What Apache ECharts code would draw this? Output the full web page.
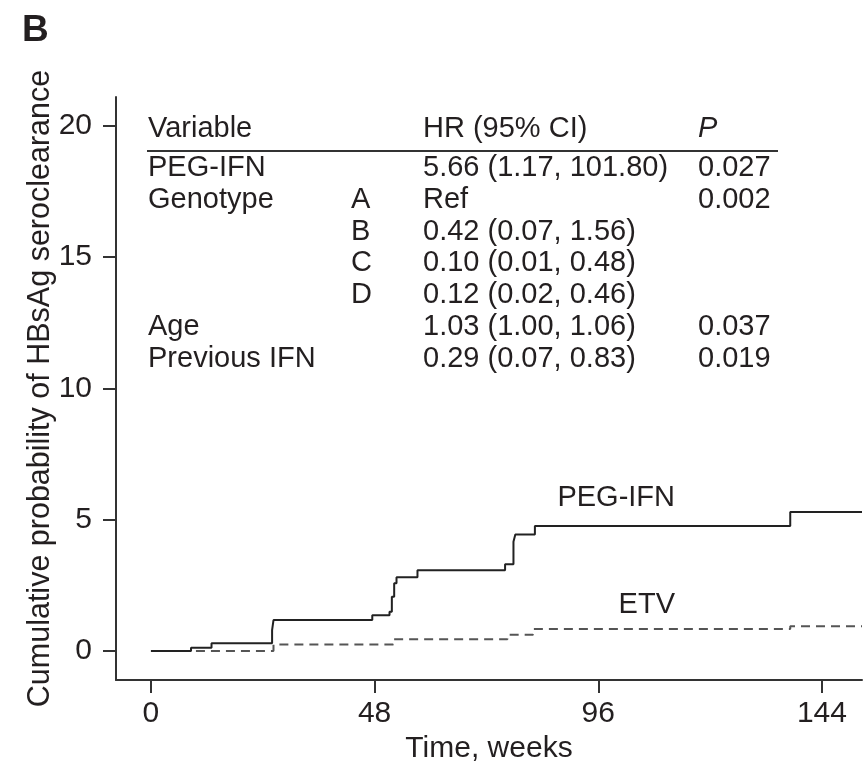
<!DOCTYPE html>
<html>
<head>
<meta charset="utf-8">
<script src="https://cdn.jsdelivr.net/npm/echarts@6/dist/echarts.min.js"></script>
<style>
html,body{margin:0;padding:0;background:#fff;}
#chart{width:866px;height:762px;}
</style>
</head>
<body>
<div id="chart"></div>
<script>
// ---- data ----
const xTicks = [0, 48, 96, 144];
const yTicks = [0, 5, 10, 15, 20];

const pegTime = [0, 8.6, 13, 26, 26.3, 47.5, 51.2, 51.7, 52.2, 52.7, 57.2, 76, 77.8, 78.2, 82.4, 137.2, 152.6];
const pegProb = [0, 0.13, 0.3, 0.8, 1.18, 1.37, 1.5, 2.07, 2.58, 2.81, 3.08, 3.31, 4.16, 4.44, 4.76, 5.3, 5.3];

const etvTime = [0, 26.3, 52, 76.5, 82, 137.2, 152.6];
const etvProb = [0, 0.25, 0.45, 0.62, 0.84, 0.95, 0.95];

const tableHeader = ['Variable', 'HR (95% CI)', 'P'];
const colVariable = ['PEG-IFN', 'Genotype', '', '', '', 'Age', 'Previous IFN'];
const colLevel    = ['', 'A', 'B', 'C', 'D', '', ''];
const colHR       = ['5.66 (1.17, 101.80)', 'Ref', '0.42 (0.07, 1.56)', '0.10 (0.01, 0.48)', '0.12 (0.02, 0.46)', '1.03 (1.00, 1.06)', '0.29 (0.07, 0.83)'];
const colP        = ['0.027', '0.002', '', '', '', '0.037', '0.019'];

const curveLabels = ['PEG-IFN', 'ETV'];

// ---- build ----
const FONT = '"Liberation Sans", Arial, Helvetica, sans-serif';
const INK = '#231f20';
const pegData = pegTime.map((t, i) => [t, pegProb[i]]);
const etvData = etvTime.map((t, i) => [t, etvProb[i]]);

const graphics = [];
function txt(x, y, s, opts) {
  graphics.push({
    type: 'text', x: x, y: y, silent: true,
    style: Object.assign({ text: s, fill: INK, font: '29px ' + FONT, textVerticalAlign: 'middle' }, opts || {})
  });
}
// Panel letter
txt(22, 31, 'B', { font: 'bold 37px ' + FONT });
// Table header
const colX = [148, 351, 423, 698];
const headerY = 129;
txt(colX[0], headerY, tableHeader[0]);
txt(colX[2], headerY, tableHeader[1]);
txt(colX[3], headerY, tableHeader[2], { font: 'italic 29px ' + FONT });
graphics.push({ type: 'line', silent: true, shape: { x1: 147, y1: 151, x2: 778, y2: 151 }, style: { stroke: '#333', lineWidth: 2 } });
const rowY0 = 168, rowStep = 31.8;
for (let i = 0; i < colVariable.length; i++) {
  const y = rowY0 + i * rowStep;
  if (colVariable[i]) txt(colX[0], y, colVariable[i]);
  if (colLevel[i]) txt(colX[1], y, colLevel[i]);
  if (colHR[i]) txt(colX[2], y, colHR[i]);
  if (colP[i]) txt(colX[3], y, colP[i]);
}
// Curve labels
txt(675, 498, curveLabels[0], { textAlign: 'right' });
txt(675, 605, curveLabels[1], { textAlign: 'right' });

const chart = echarts.init(document.getElementById('chart'), null, { renderer: 'canvas' });
chart.setOption({
  backgroundColor: '#fff',
  animation: false,
  grid: { left: 116, right: 4, top: 97, bottom: 82, containLabel: false, outerBoundsMode: 'none' },
  xAxis: {
    type: 'value', min: -7.5, max: 152.6,
    name: 'Time, weeks', nameLocation: 'middle', nameGap: 50,
    nameTextStyle: { fontFamily: FONT, fontSize: 30, color: INK },
    axisLine: { show: true, onZero: false, lineStyle: { color: '#333', width: 2 } },
    axisTick: { show: true, length: 13, inside: false, customValues: xTicks, lineStyle: { color: '#333', width: 2 } },
    axisLabel: { customValues: xTicks, fontFamily: FONT, fontSize: 30, color: INK, margin: 19 },
    splitLine: { show: false }
  },
  yAxis: {
    type: 'value', min: -1.1, max: 21.1,
    name: 'Cumulative probability of HBsAg seroclearance', nameLocation: 'middle', nameGap: 60,
    nameMoveOverlap: false,
    nameTextStyle: { fontFamily: FONT, fontSize: 30.5, color: INK },
    axisLine: { show: true, onZero: false, lineStyle: { color: '#333', width: 2 } },
    axisTick: { show: true, length: 13, inside: false, customValues: yTicks, lineStyle: { color: '#333', width: 2 } },
    axisLabel: { customValues: yTicks, fontFamily: FONT, fontSize: 30, color: INK, margin: 24 },
    splitLine: { show: false }
  },
  series: [
    {
      name: 'ETV', type: 'line', step: 'end', data: etvData, symbol: 'none',
      lineStyle: { color: '#555', width: 2, type: [9, 6] }, z: 2
    },
    {
      name: 'PEG-IFN', type: 'line', step: 'end', data: pegData, symbol: 'none',
      lineStyle: { color: '#222', width: 2 }, z: 3
    }
  ],
  graphic: graphics
});
</script>
</body>
</html>
